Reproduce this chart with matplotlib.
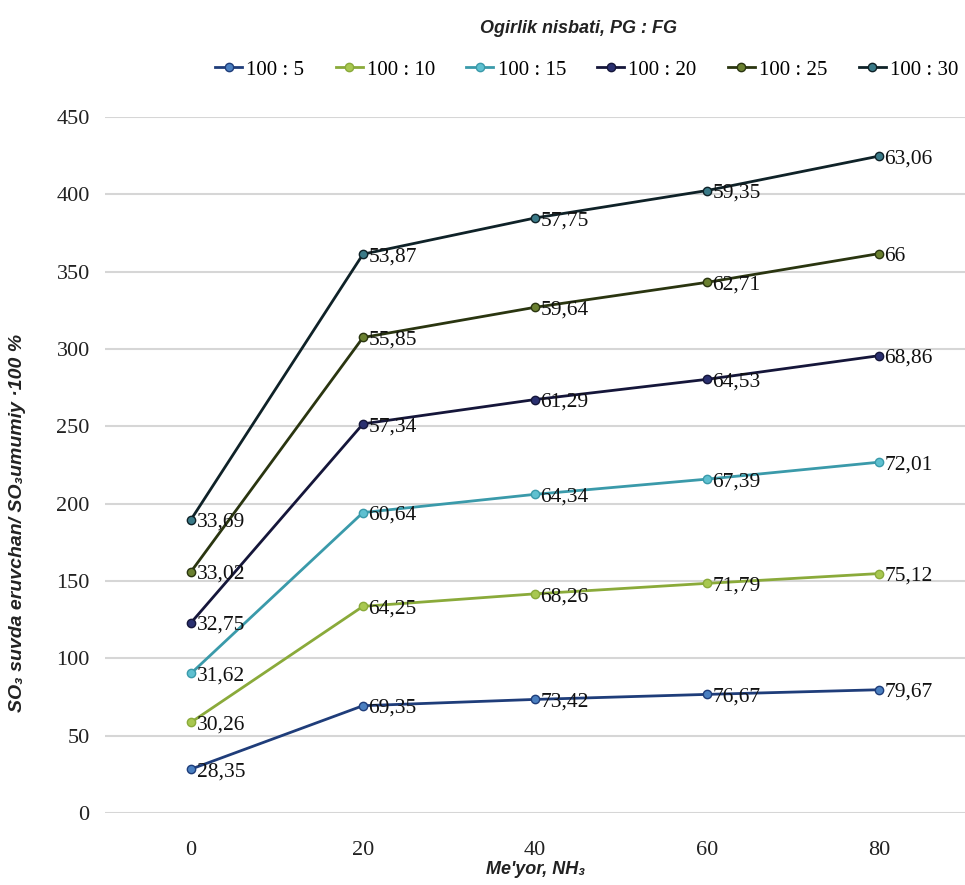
import numpy as np
import matplotlib
matplotlib.use('Agg')
import matplotlib.pyplot as plt

# categories (NH3 norm) and per-series values (stacked line chart)
categories = ['0', '20', '40', '60', '80']
series_names = ['100 : 5', '100 : 10', '100 : 15', '100 : 20', '100 : 25', '100 : 30']
s_100_5 = [28.35, 69.35, 73.42, 76.67, 79.67]
s_100_10 = [30.26, 64.25, 68.26, 71.79, 75.12]
s_100_15 = [31.62, 60.64, 64.34, 67.39, 72.01]
s_100_20 = [32.75, 57.34, 61.29, 64.53, 68.86]
s_100_25 = [33.02, 55.85, 59.64, 62.71, 66]
s_100_30 = [33.69, 53.87, 57.75, 59.35, 63.06]
y_ticks = [0, 50, 100, 150, 200, 250, 300, 350, 400, 450]

series = [s_100_5, s_100_10, s_100_15, s_100_20, s_100_25, s_100_30]
line_colors = ['#1f3d7a', '#8aaa3a', '#3a9aaa', '#15163a', '#2a3510', '#0f2228']
marker_colors = ['#4a7fc0', '#a8c850', '#5ec0d0', '#2a3070', '#6a8030', '#3a7a88']

serif = ['Liberation Serif', 'DejaVu Serif']
sans = ['Liberation Sans', 'DejaVu Sans']

fig = plt.figure(figsize=(9.65, 8.85), dpi=100)
ax = fig.add_axes([0.1088, 0.0814, 0.8912, 0.7864])

x = np.arange(len(categories))
stacked = np.cumsum(np.array(series), axis=0)

handles = []
for i, name in enumerate(series_names):
    h, = ax.plot(x, stacked[i], color=line_colors[i], lw=2.0, marker='o', ms=6,
                 mfc=marker_colors[i], mec=line_colors[i], mew=1.0,
                 label=name, zorder=3)
    handles.append(h)
    for xi, yi, v in zip(x, stacked[i], series[i]):
        txt = ('%g' % v).replace('.', ',')
        ax.annotate(txt, (xi, yi), xytext=(4, -2), textcoords='offset points',
                    ha='left', va='center', fontsize=15.5, family=serif,
                    color='#111111', zorder=4)

ax.set_xlim(-0.5, 4.5)
ax.set_ylim(0, 450)
ax.set_yticks(y_ticks)
ax.set_xticks(x)
ax.set_xticklabels(categories, family=serif, fontsize=16)
ax.set_yticklabels([str(t) for t in y_ticks], family=serif, fontsize=16)
ax.tick_params(length=0, colors='#222222')
ax.tick_params(axis='x', pad=20)
ax.tick_params(axis='y', pad=11)
ax.grid(axis='y', color='#d6d6d6', lw=1.5)
ax.set_axisbelow(True)
for s in ax.spines.values():
    s.set_visible(False)

fig.text(0.555, 0.017, "Me'yor, NH\u2083", family=sans, style='italic', fontweight='bold',
         fontsize=13, ha='center', va='center', color='#222222')
fig.text(0.018, 0.409, 'SO\u2083 suvda eruvchan/ SO\u2083umumiy \u00b7100 %', rotation=90,
         family=sans, style='italic', fontweight='bold', fontsize=14,
         ha='center', va='center', color='#222222')

fig.text(0.6, 0.968, 'Ogirlik nisbati, PG : FG', family=sans, style='italic',
         fontweight='bold', fontsize=13, ha='center', va='center', color='#222222')
fig.legend(handles=handles, labels=series_names, loc='center', ncol=6,
           bbox_to_anchor=(0.608, 0.921), frameon=False, handlelength=1.3,
           handletextpad=0.2, columnspacing=1.5, prop={'family': serif, 'size': 15})

fig.savefig('out.png', dpi=100, facecolor='white')
